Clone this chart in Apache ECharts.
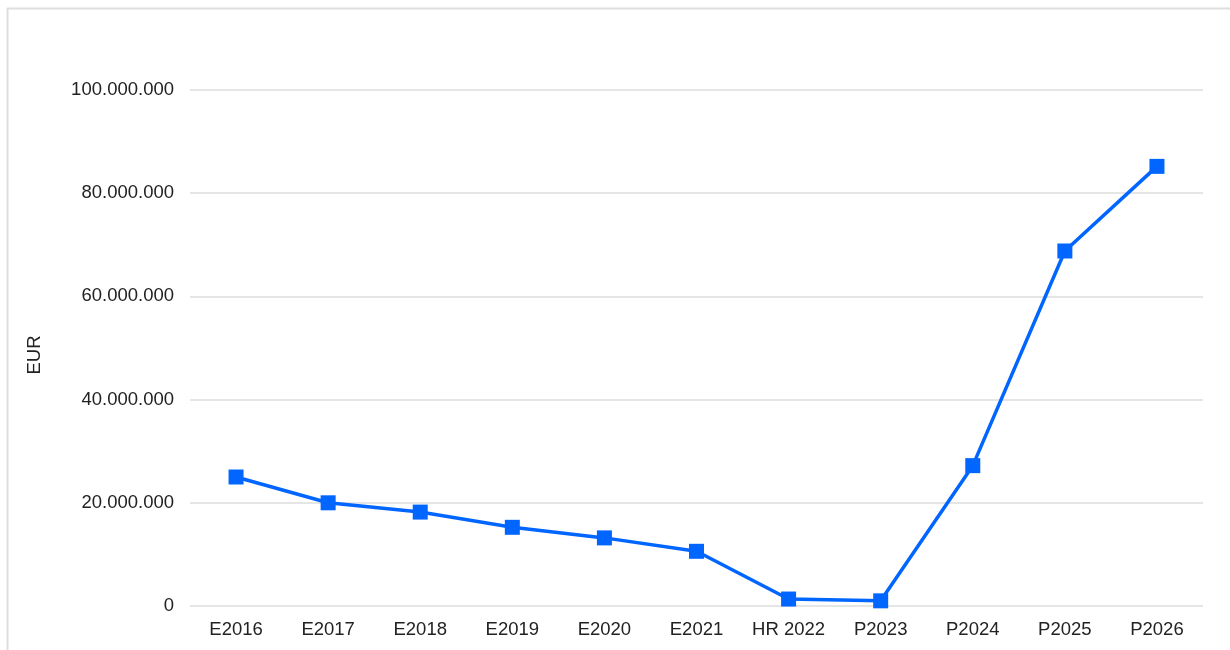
<!DOCTYPE html>
<html>
<head>
<meta charset="utf-8">
<script src="https://cdn.jsdelivr.net/npm/echarts@6/dist/echarts.min.js"></script>
<style>
  html, body { margin: 0; padding: 0; background: #fff; }
  #chart { width: 1230px; height: 650px; }
</style>
</head>
<body>
<div id="chart"></div>
<script>
// Yearly values in EUR (E = actual, HR = half-year report, P = plan)
const categories = ['E2016', 'E2017', 'E2018', 'E2019', 'E2020', 'E2021', 'HR 2022', 'P2023', 'P2024', 'P2025', 'P2026'];
const values = [25000000, 20000000, 18200000, 15250000, 13200000, 10600000, 1350000, 1000000, 27200000, 68800000, 85200000];
const axisName = 'EUR';

function formatEur(v) {
  return String(Math.round(v)).replace(/\B(?=(\d{3})+(?!\d))/g, '.');
}

const chart = echarts.init(document.getElementById('chart'), null, { renderer: 'canvas' });
const font = '"Liberation Sans", Arial, sans-serif';

chart.setOption({
  animation: false,
  backgroundColor: '#ffffff',
  textStyle: { fontFamily: font },
  graphic: [
    // frame lines along the top and left edge
    { type: 'line', shape: { x1: 7, y1: 8.5, x2: 1230, y2: 8.5 }, style: { stroke: '#dedede', lineWidth: 2 }, silent: true },
    { type: 'line', shape: { x1: 7.5, y1: 8, x2: 7.5, y2: 650 }, style: { stroke: '#dedede', lineWidth: 2 }, silent: true }
  ],
  grid: { left: 190, right: 27, top: 90, bottom: 44, containLabel: false },
  xAxis: {
    type: 'category',
    data: categories,
    boundaryGap: true,
    axisLine: { show: false },
    axisTick: { show: false },
    axisLabel: { color: '#222', fontSize: 18.5, margin: 14, interval: 0, fontFamily: font }
  },
  yAxis: {
    type: 'value',
    min: 0,
    max: 100000000,
    interval: 20000000,
    name: axisName,
    nameLocation: 'middle',
    nameGap: 146,
    nameRotate: 90,
    nameTextStyle: { color: '#222', fontSize: 18.5, fontFamily: font, padding: [0, 14, 0, 0] },
    axisLine: { show: false },
    axisTick: { show: false },
    splitLine: { lineStyle: { color: '#dddddd', width: 1.5 } },
    axisLabel: { color: '#222', fontSize: 18.5, margin: 16, fontFamily: font, formatter: formatEur }
  },
  series: [{
    type: 'line',
    data: values,
    symbol: 'rect',
    symbolSize: 15,
    showAllSymbol: true,
    lineStyle: { color: '#0066ff', width: 3.5 },
    itemStyle: { color: '#0066ff' }
  }]
});
</script>
</body>
</html>
